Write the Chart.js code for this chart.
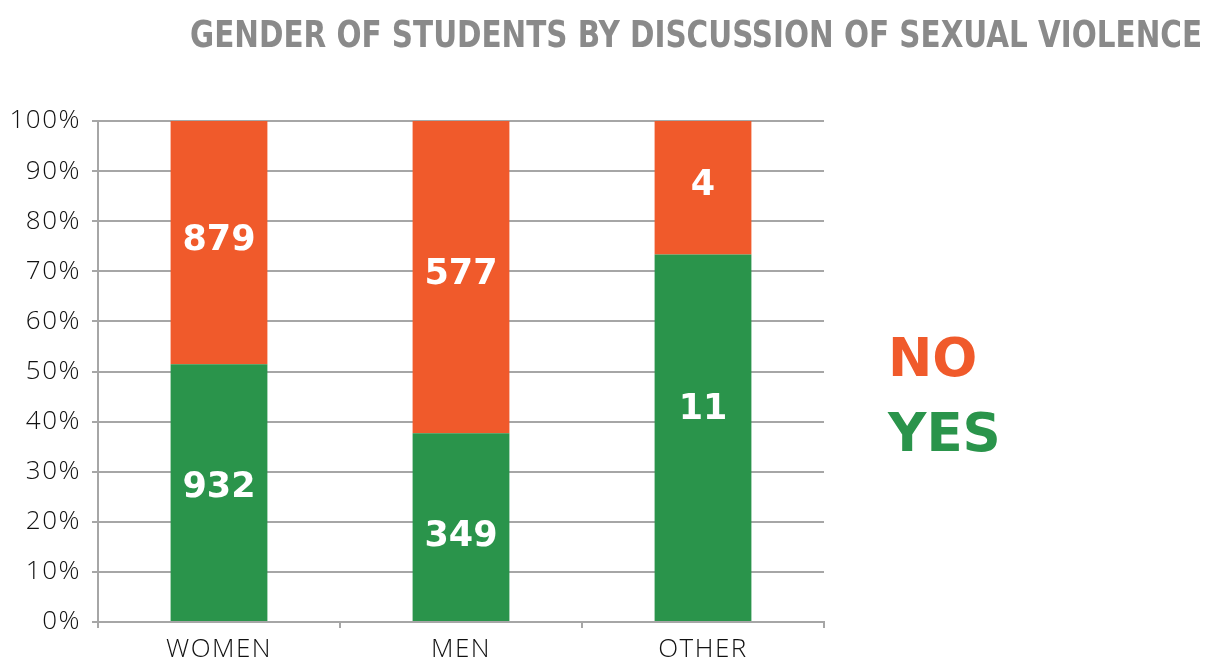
<!DOCTYPE html>
<html>
<head>
<meta charset="utf-8">
<script src="https://cdn.jsdelivr.net/npm/chart.js@4/dist/chart.umd.min.js"></script>
<style>
  html, body { margin: 0; padding: 0; background: #fff; }
  #wrap { position: relative; width: 1208px; height: 663px; }
  #title {
    position: absolute; right: 6px; top: 13px;
    font-family: "DejaVu Sans Condensed", "DejaVu Sans", sans-serif;
    font-weight: bold; font-size: 37px; color: #8a8a8a; white-space: nowrap;
    transform-origin: right center;
  }
  .leg {
    position: absolute; left: 888px;
    font-family: "DejaVu Sans", sans-serif; font-weight: bold; font-size: 53px;
  }
</style>
</head>
<body>
<div id="wrap">
  <canvas id="genderChart" width="1208" height="663"></canvas>
  <div id="title">GENDER OF STUDENTS BY DISCUSSION OF SEXUAL VIOLENCE</div>
  <div class="leg" style="top:327px;color:#f05a2b">NO</div>
  <div class="leg" style="top:402px;color:#2a944b">YES</div>
</div>
<script>
const genders = ['WOMEN', 'MEN', 'OTHER'];
const yesCounts = [932, 349, 11];
const noCounts = [879, 577, 4];

const totals = genders.map((_, i) => yesCounts[i] + noCounts[i]);
const yesPct = yesCounts.map((v, i) => v / totals[i] * 100);
const noPct = noCounts.map((v, i) => v / totals[i] * 100);

const gridGray = '#a6a6a6';

// squeeze the title into the same width as the original
const titleEl = document.getElementById('title');
titleEl.style.transform = 'scaleX(' + (1012 / titleEl.offsetWidth) + ')';

// wider letter spacing for axis labels
const spacing = {
  id: 'spacing',
  beforeDraw(chart) { chart.ctx.letterSpacing = '1.5px'; },
  beforeDatasetsDraw(chart) { chart.ctx.letterSpacing = '0px'; }
};

// white counts in the segments (the original had a couple placed off-centre)
const countLabels = {
  id: 'countLabels',
  afterDatasetsDraw(chart, args, opts) {
    const ctx = chart.ctx;
    ctx.save();
    ctx.fillStyle = '#fff';
    ctx.font = 'bold 35px "DejaVu Sans", sans-serif';
    ctx.textAlign = 'center';
    ctx.textBaseline = 'middle';
    chart.data.datasets.forEach((ds, di) => {
      chart.getDatasetMeta(di).data.forEach((bar, i) => {
        const mid = (bar.y + bar.base) / 2;
        const nudge = (opts.nudge[di] || [])[i] || 0;
        ctx.fillText(ds.counts[i], bar.x, mid - 2 + nudge);
      });
    });
    ctx.restore();
  }
};

const ctx = document.getElementById('genderChart').getContext('2d');
new Chart(ctx, {
  type: 'bar',
  data: {
    labels: genders,
    datasets: [
      { label: 'YES', data: yesPct, counts: yesCounts, backgroundColor: '#2a944b' },
      { label: 'NO', data: noPct, counts: noCounts, backgroundColor: '#f05a2b' }
    ]
  },
  options: {
    responsive: false,
    animation: false,
    layout: { padding: { top: 121, right: 384, bottom: 0, left: 0 } },
    datasets: { bar: { barPercentage: 0.4, categoryPercentage: 1 } },
    plugins: {
      legend: { display: false }, title: { display: false }, tooltip: { enabled: false },
      countLabels: { nudge: [[-3, 12, -26], [0, 0, 0]] }
    },
    scales: {
      x: {
        stacked: true,
        afterFit: s => { s.height = 41; },
        grid: { offset: true, drawOnChartArea: false, tickLength: 6, color: gridGray, lineWidth: 2 },
        border: { color: gridGray, width: 2 },
        ticks: { color: '#111', padding: 6, font: { family: 'Open Sans', weight: 300, size: 26 } }
      },
      y: {
        stacked: true,
        min: 0, max: 100,
        afterFit: s => { s.width = 98; },
        grid: { color: gridGray, lineWidth: 2, tickLength: 6 },
        border: { color: gridGray, width: 2 },
        ticks: {
          stepSize: 10, color: '#111', padding: 11,
          font: { family: 'Open Sans', weight: 300, size: 26 },
          callback: v => v + '%'
        }
      }
    }
  },
  plugins: [spacing, countLabels]
});
</script>
</body>
</html>
